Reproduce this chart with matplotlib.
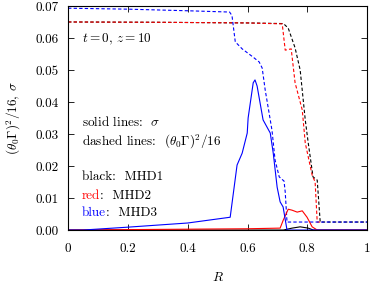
import matplotlib
matplotlib.use('Agg')
import matplotlib.pyplot as plt

# Font settings to mimic LaTeX look
plt.rcParams['font.family'] = 'serif'
plt.rcParams['font.serif'] = ['cmr10', 'DejaVu Serif']
plt.rcParams['mathtext.fontset'] = 'cm'
plt.rcParams['axes.formatter.use_mathtext'] = True
plt.rcParams['font.size'] = 9.5

# Dashed lines: (theta0 Gamma)^2/16
r_dash_blue = [0.0, 0.2, 0.4, 0.54, 0.548, 0.559, 0.582, 0.619, 0.639, 0.649, 0.659, 0.676,
               0.682, 0.692, 0.706, 0.722, 0.726, 0.732, 1.0]
v_dash_blue = [0.0693, 0.0690, 0.0685, 0.0681, 0.0670, 0.0588, 0.0566, 0.0540, 0.0525, 0.0506,
               0.0438, 0.0344, 0.0310, 0.0219, 0.0166, 0.0153, 0.0119, 0.0025, 0.0025]

r_dash_black = [0.0, 0.3, 0.6, 0.72, 0.736, 0.759, 0.776, 0.793, 0.803, 0.819, 0.833, 0.843, 1.0]
v_dash_black = [0.0650, 0.0649, 0.0647, 0.0645, 0.0631, 0.0569, 0.0500, 0.0344, 0.0272, 0.0166,
                0.0156, 0.0025, 0.0025]

r_dash_red = [0.0, 0.3, 0.6, 0.716, 0.726, 0.746, 0.759, 0.783, 0.793, 0.816, 0.826, 0.833, 0.85]
v_dash_red = [0.0650, 0.0649, 0.0647, 0.0644, 0.0562, 0.0566, 0.0460, 0.0375, 0.0272, 0.0172,
              0.0150, 0.0025, 0.0025]

# Solid lines: sigma
r_sol_blue = [0.0, 0.05, 0.2, 0.4, 0.542, 0.565, 0.582, 0.599, 0.602, 0.619, 0.625, 0.632,
              0.652, 0.676, 0.686, 0.699, 0.709, 0.719, 0.732, 1.0]
v_sol_blue = [0.0, 0.0, 0.0009, 0.0022, 0.0040, 0.0203, 0.0240, 0.0303, 0.0350, 0.0460, 0.0469,
              0.0450, 0.0344, 0.0303, 0.0240, 0.0134, 0.0088, 0.0072, 0.0, 0.0]

r_sol_red = [0.0, 0.3, 0.6, 0.709, 0.719, 0.736, 0.749, 0.766, 0.783, 0.799, 0.816, 0.833, 1.0]
v_sol_red = [0.0, 0.0002, 0.0004, 0.0006, 0.0030, 0.0065, 0.0062, 0.0056, 0.0060, 0.0040,
             0.0010, 0.0, 0.0]

r_sol_black = [0.0, 0.72, 0.749, 0.776, 0.803, 0.82, 1.0]
v_sol_black = [0.0, 0.0, 0.0006, 0.0010, 0.0006, 0.0, 0.0]

fig = plt.figure(figsize=(3.72, 2.84), dpi=100)
ax = fig.add_axes([0.183, 0.190, 0.804, 0.789])

lw = 0.8
dash = (0, (3, 2))
ax.plot(r_dash_black, v_dash_black, color='black', lw=lw, ls=dash)
ax.plot(r_dash_red, v_dash_red, color='red', lw=lw, ls=dash)
ax.plot(r_dash_blue, v_dash_blue, color='blue', lw=lw, ls=dash)
ax.plot(r_sol_black, v_sol_black, color='black', lw=lw)
ax.plot(r_sol_red, v_sol_red, color='red', lw=lw)
ax.plot(r_sol_blue, v_sol_blue, color='blue', lw=lw)

ax.set_xlim(0, 1)
ax.set_ylim(0, 0.07)
ax.set_xticks([0, 0.2, 0.4, 0.6, 0.8, 1])
ax.set_xticklabels(['0', '0.2', '0.4', '0.6', '0.8', '1'])
ax.set_yticks([0, 0.01, 0.02, 0.03, 0.04, 0.05, 0.06, 0.07])
ax.set_yticklabels(['0.00', '0.01', '0.02', '0.03', '0.04', '0.05', '0.06', '0.07'])
ax.tick_params(direction='in', top=True, right=True, length=4, width=0.6)
ax.tick_params(axis='x', pad=9)
ax.tick_params(axis='y', pad=7)
for s in ax.spines.values():
    s.set_linewidth(0.8)

ax.set_xlabel('$R$', labelpad=12)
ax.set_ylabel(r'$(\theta_0\Gamma)^2/16$, $\sigma$', labelpad=9)

# Annotations
tx = 0.047
ax.text(tx, 0.0595, r'$t=0$, $z=10$', va='center')
ax.text(tx, 0.0336, r'solid lines:  $\sigma$', va='center')
ax.text(tx, 0.0276, r'dashed lines:  $(\theta_0\Gamma)^2/16$', va='center')
ax.text(tx, 0.0166, 'black:  MHD1', va='center')
t_red = ax.text(tx, 0.0108, 'red', color='red', va='center')
ax.annotate(':  MHD2', xy=(1, 0), xycoords=t_red, va='bottom')
t_blue = ax.text(tx, 0.0052, 'blue', color='blue', va='center')
ax.annotate(':  MHD3', xy=(1, 0), xycoords=t_blue, va='bottom')

plt.savefig('out.png', dpi=100)
